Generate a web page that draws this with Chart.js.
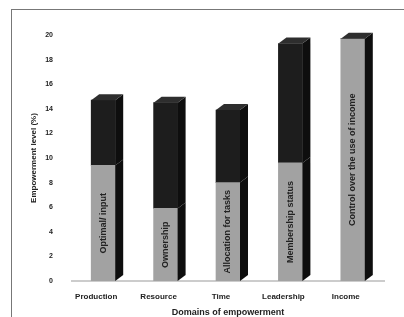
<!DOCTYPE html>
<html>
<head>
<meta charset="utf-8">
<script src="https://cdn.jsdelivr.net/npm/chart.js@4/dist/chart.umd.min.js"></script>
<style>
    body { margin: 0; background: #fff; }
    .wrap { position: relative; width: 404px; height: 317px; overflow: hidden; }
    .frame { position: absolute; left: 11px; top: 9px; width: 400px; height: 320px;
             border-top: 1px solid #777; border-left: 1px solid #777; }
    canvas { position: absolute; left: 0; top: 0; }
</style>
</head>
<body>
<div class="wrap">
    <div class="frame"></div>
    <canvas id="chart" width="404" height="317"></canvas>
</div>
<script>
// Data
const domains = ['Production', 'Resource', 'Time', 'Leadership', 'Income'];
const indicatorNames = ['Optimal/ input', 'Ownership', 'Allocation for tasks', 'Membership status', 'Control over the use of income'];
const indicatorValues = [9.4, 5.9, 8.0, 9.6, 19.7];
const remainderValues = [5.3, 8.6, 5.9, 9.7, 0];
const yTicks = [0, 2, 4, 6, 8, 10, 12, 14, 16, 18, 20];

// Colours
const lightFront = '#a2a2a2';
const darkFront = '#1d1d1d';
const sideColor = '#0e0e0e';
const topColor = '#2e2e2e';

// Fake 3D: side and top faces built from the bar elements
const bar3d = {
    id: 'bar3d',
    afterDatasetsDraw(chart) {
        const ctx = chart.ctx;
        const metas = [chart.getDatasetMeta(0), chart.getDatasetMeta(1)];
        const dx = 8, dy = 6;
        ctx.save();
        domains.forEach((d, i) => {
            let topEl = null;
            metas.forEach((meta, di) => {
                const el = meta.data[i];
                const v = chart.data.datasets[di].data[i];
                if (!el || !v) return;
                const right = el.x + el.width / 2;
                ctx.fillStyle = sideColor;
                ctx.beginPath();
                ctx.moveTo(right, el.y);
                ctx.lineTo(right + dx, el.y - dy);
                ctx.lineTo(right + dx, el.base - dy);
                ctx.lineTo(right, el.base);
                ctx.closePath();
                ctx.fill();
                if (!topEl || el.y < topEl.y) topEl = el;
            });
            if (topEl) {
                const l = topEl.x - topEl.width / 2;
                const r = topEl.x + topEl.width / 2;
                ctx.fillStyle = topColor;
                ctx.beginPath();
                ctx.moveTo(l, topEl.y);
                ctx.lineTo(l + dx, topEl.y - dy);
                ctx.lineTo(r + dx, topEl.y - dy);
                ctx.lineTo(r, topEl.y);
                ctx.closePath();
                ctx.fill();
            }
            // indicator name inside the light segment
            const el = metas[0].data[i];
            ctx.translate(el.x, (el.y + el.base) / 2);
            ctx.rotate(-Math.PI / 2);
            ctx.fillStyle = '#222';
            ctx.font = 'bold 9px "Liberation Sans", Arial, sans-serif';
            ctx.textAlign = 'center';
            ctx.textBaseline = 'middle';
            ctx.fillText(indicatorNames[i], 0, 0);
            ctx.setTransform(1, 0, 0, 1, 0, 0);
        });
        ctx.restore();
    }
};

const font = { family: '"Liberation Sans", Arial, sans-serif', weight: 'bold' };

new Chart(document.getElementById('chart'), {
    type: 'bar',
    data: {
        labels: domains,
        datasets: [
            { label: 'Indicator', data: indicatorValues, backgroundColor: lightFront, barThickness: 24 },
            { label: 'Remainder', data: remainderValues, backgroundColor: darkFront, barThickness: 24 }
        ]
    },
    options: {
        responsive: false,
        animation: false,
        layout: { padding: { top: 35, right: 20, left: 29, bottom: 0 } },
        plugins: { legend: { display: false }, tooltip: { enabled: false } },
        scales: {
            x: {
                stacked: true,
                grid: { display: false, drawTicks: false },
                border: { color: '#ccc', width: 2 },
                ticks: { color: '#222', font: { ...font, size: 8 }, labelOffset: -7, padding: 11 },
                title: { display: true, text: 'Domains of empowerment', color: '#222', font: { ...font, size: 9, lineHeight: 1 }, padding: { top: 0, bottom: 0 } },
                afterFit: axis => { axis.height = 36; axis.paddingLeft = 0; axis.paddingRight = 0; }
            },
            y: {
                stacked: true,
                min: 0,
                max: 20,
                afterBuildTicks: axis => { axis.ticks = yTicks.map(v => ({ value: v })); },
                grid: { display: false, drawTicks: false },
                border: { display: false },
                ticks: { color: '#222', font: { ...font, size: 7 }, padding: 19 },
                title: { display: true, text: 'Empowerment level (%)', color: '#222', font: { ...font, size: 8 }, padding: { top: 0, bottom: 4 } },
                afterFit: axis => { axis.width = 43; }
            }
        }
    },
    plugins: [bar3d]
});
</script>
</body>
</html>
